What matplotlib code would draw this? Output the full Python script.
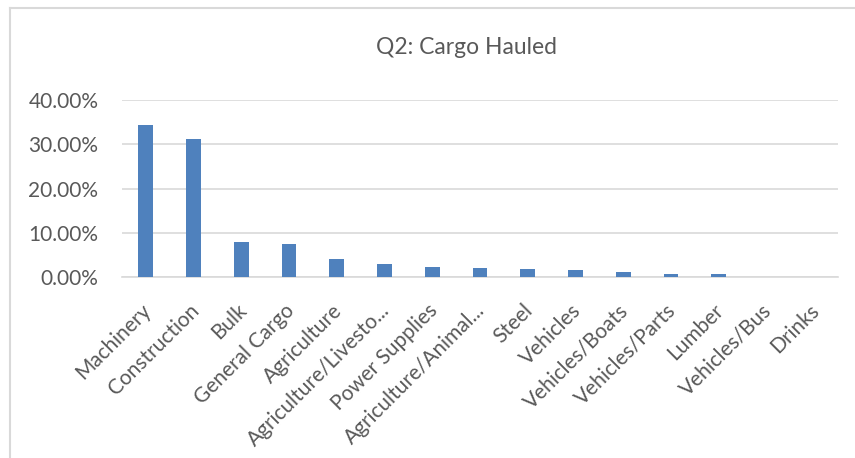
import matplotlib.pyplot as plt
from matplotlib.lines import Line2D
from matplotlib.ticker import PercentFormatter
from matplotlib.transforms import ScaledTranslation

categories = ['Machinery', 'Construction', 'Bulk', 'General Cargo', 'Agriculture',
              'Agriculture/Livesto...', 'Power Supplies', 'Agriculture/Animal...',
              'Steel', 'Vehicles', 'Vehicles/Boats', 'Vehicles/Parts', 'Lumber',
              'Vehicles/Bus', 'Drinks']
shares = [0.344, 0.312, 0.079, 0.0745, 0.042, 0.029, 0.024, 0.021,
          0.0195, 0.0165, 0.013, 0.008, 0.008, 0.0, 0.0]
y_ticks = [0.0, 0.1, 0.2, 0.3, 0.4]

plt.rcParams['font.family'] = ['Lato', 'DejaVu Sans']
text_color = '#595959'
grid_color = '#d9d9d9'

fig = plt.figure(figsize=(8.55, 4.58), dpi=100)
ax = fig.add_axes([122 / 855, 1 - 277.3 / 458, (838 - 122) / 855, 177.3 / 458])

ax.bar(range(len(categories)), shares, width=0.31, color='#4f81bd', zorder=3)
ax.set_xlim(-0.5, len(categories) - 0.5)
ax.set_ylim(0, 0.4)
ax.set_yticks(y_ticks)
ax.yaxis.set_major_formatter(PercentFormatter(1.0, decimals=2))
ax.grid(axis='y', color=grid_color, linewidth=1.2, zorder=0)

ax.set_xticks(range(len(categories)))
ax.set_xticklabels(categories, rotation=45, ha='right', va='top', rotation_mode='anchor')
ax.tick_params(axis='both', length=0, colors=text_color)
ax.tick_params(axis='x', pad=0, labelsize=15)
ax.tick_params(axis='y', pad=17, labelsize=15)
shift = ScaledTranslation(-5 / 100, -23 / 100, fig.dpi_scale_trans)
for lbl in ax.get_xticklabels():
    lbl.set_transform(lbl.get_transform() + shift)
for side in ['top', 'right', 'left']:
    ax.spines[side].set_visible(False)
ax.spines['bottom'].set_color(grid_color)
ax.spines['bottom'].set_linewidth(1.2)

fig.text(466 / 855, 1 - 48 / 458, 'Q2: Cargo Hauled', ha='center', va='center',
         fontsize=16.5, color=text_color)

# chart frame (left and top edges visible)
fig.add_artist(Line2D([10 / 855, 10 / 855], [0, 1 - 8 / 458], transform=fig.transFigure,
                      color=grid_color, linewidth=1.5))
fig.add_artist(Line2D([10 / 855, 1], [1 - 8 / 458, 1 - 8 / 458], transform=fig.transFigure,
                      color=grid_color, linewidth=1.5))

fig.savefig('out.png', dpi=100)
